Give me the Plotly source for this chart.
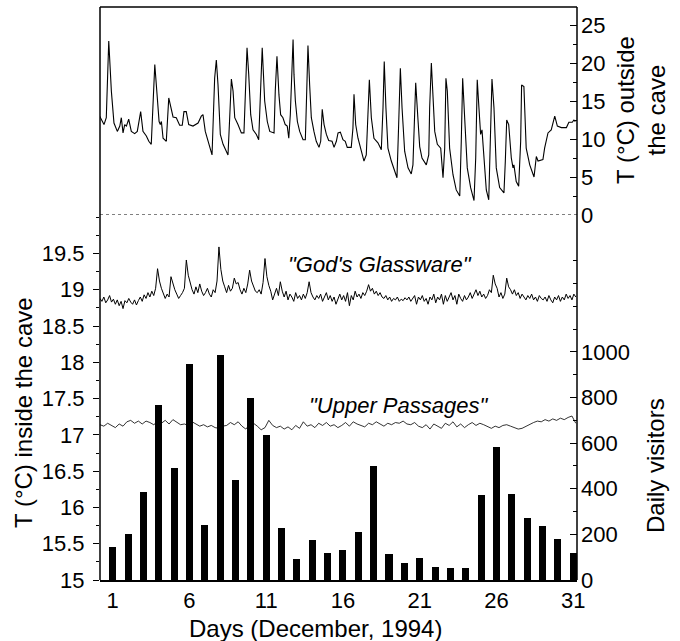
import plotly.graph_objects as go

# ---------------- data ----------------
DAYS = list(range(1, 32))
VISITORS = [143, 202, 387, 768, 490, 946, 241, 987, 439, 800, 636, 229, 93, 175, 120,
            132, 212, 500, 113, 76, 95, 58, 51, 51, 371, 582, 376, 273, 237, 179, 120]

X_TICKS = [1, 6, 11, 16, 21, 26, 31]
IN_TICKS = [15, 15.5, 16, 16.5, 17, 17.5, 18, 18.5, 19, 19.5]
IN_TICK_TEXT = ["15", "15.5", "16", "16.5", "17", "17.5", "18", "18.5", "19", "19.5"]
OUT_TICKS = [0, 5, 10, 15, 20, 25]
VIS_TICKS = [0, 200, 400, 600, 800, 1000]
VIS_MINOR = [100, 300, 500, 700, 900, 1100, 1200, 1300, 1400]

# outside temperature (day, degC)
OUT_DAY = [0.15, 0.43, 0.58, 0.74, 0.91, 1.08, 1.30, 1.46, 1.56, 1.67, 1.78, 1.89, 2.04, 2.21,
           2.43, 2.60, 2.82, 2.97, 3.19, 3.35, 3.51, 3.63, 3.74, 3.89, 4.02, 4.10, 4.17, 4.28,
           4.49, 4.65, 4.78, 4.93, 5.14, 5.36, 5.53, 5.64, 5.79, 5.95, 6.23, 6.56, 6.77, 6.88,
           7.03, 7.27, 7.47, 7.64, 7.75, 7.86, 8.01, 8.19, 8.36, 8.51, 8.62, 8.73, 8.84, 8.95,
           9.16, 9.38, 9.55, 9.64, 9.75, 9.86, 9.99, 10.14, 10.36, 10.51, 10.64, 10.74, 10.90,
           11.07, 11.23, 11.51, 11.59, 11.70, 11.83, 11.94, 12.09, 12.24, 12.37, 12.47, 12.57,
           12.68, 12.75, 12.81, 12.90, 13.03, 13.18, 13.40, 13.55, 13.64, 13.72, 13.83, 13.94,
           14.11, 14.26, 14.44, 14.55, 14.65, 14.77, 14.92, 15.07, 15.29, 15.42, 15.57, 15.68,
           15.83, 16.00, 16.15, 16.28, 16.54, 16.65, 16.72, 16.83, 16.98, 17.20, 17.37, 17.52,
           17.63, 17.72, 17.85, 18.02, 18.28, 18.50, 18.61, 18.69, 18.80, 18.93, 19.15, 19.37,
           19.52, 19.63, 19.74, 19.85, 20.02, 20.24, 20.45, 20.56, 20.67, 20.74, 20.89, 21.00,
           21.15, 21.43, 21.59, 21.65, 21.76, 21.87, 21.98, 22.15, 22.37, 22.52, 22.63, 22.71,
           22.80, 22.95, 23.17, 23.38, 23.61, 23.71, 23.80, 23.93, 24.10, 24.32, 24.54, 24.65,
           24.75, 24.86, 24.97, 25.06, 25.19, 25.34, 25.50, 25.60, 25.71, 25.84, 25.99, 26.21,
           26.49, 26.58, 26.67, 26.80, 26.97, 27.08, 27.14, 27.29, 27.45, 27.58, 27.64, 27.79,
           27.94, 28.17, 28.45, 28.60, 28.71, 29.03, 29.14, 29.36, 29.57, 29.80, 29.97, 30.23,
           30.56, 30.72, 30.94, 31.05, 31.14]
OUT_T = [13.0, 11.9, 12.8, 22.9, 16.3, 12.1, 11.0, 11.7, 12.8, 10.8, 11.9, 11.7, 12.6, 11.0,
         10.7, 11.0, 13.6, 11.0, 10.4, 9.7, 9.3, 14.1, 19.8, 15.8, 12.3, 11.9, 12.3, 10.1,
         9.7, 15.4, 14.1, 12.9, 12.8, 11.8, 11.8, 13.6, 13.6, 11.9, 11.7, 12.1, 13.0, 13.2,
         11.0, 9.3, 7.9, 18.0, 20.4, 17.1, 10.6, 9.3, 8.6, 7.9, 12.8, 17.9, 16.3, 12.8,
         11.9, 10.8, 10.8, 16.3, 22.0, 18.5, 13.2, 11.2, 10.6, 9.9, 16.3, 22.0, 15.0,
         12.3, 11.0, 10.8, 16.3, 20.9, 15.8, 13.2, 12.8, 11.9, 11.7, 10.1, 13.2,
         18.5, 23.1, 18.5, 15.0, 12.3, 11.0, 9.9, 9.9, 16.3, 22.3, 17.1, 12.8,
         11.0, 9.7, 8.9, 9.7, 13.9, 11.9, 10.6, 9.8, 9.7, 8.9, 9.7, 10.8,
         10.9, 9.9, 9.7, 8.9, 8.9, 11.4, 15.9, 11.9, 10.1, 8.4, 7.1, 7.9,
         14.1, 17.8, 12.8, 10.1, 9.5, 8.6, 14.1, 20.2, 14.1, 8.8, 7.1, 5.8,
         4.9, 11.9, 19.3, 14.1, 8.4, 6.2, 5.4, 6.6, 14.1, 17.4, 12.5, 9.0,
         7.5, 6.6, 7.9, 14.1, 20.0, 16.3, 11.0, 9.3, 8.8, 4.9, 8.8, 18.0,
         16.3, 8.8, 5.3, 3.3, 2.5, 9.7, 18.0, 12.8, 6.2, 3.6, 1.9, 7.5,
         17.8, 14.1, 10.6, 11.2, 7.1, 3.3, 2.0, 9.7, 17.9, 14.1, 6.2, 3.6,
         2.9, 7.1, 12.5, 11.9, 7.5, 6.2, 6.6, 4.4, 3.8, 9.7, 17.1, 16.9,
         8.8, 6.6, 5.0, 7.7, 7.1, 7.3, 8.8, 10.8, 11.2, 13.0, 11.7, 11.5,
         11.5, 12.2, 12.2, 12.5, 12.3]

# "God's Glassware" inside temperature, every 3 h from day 0.17
GG_START, GG_STEP = 0.17, 0.125
GG_T = [18.88, 18.84, 18.90, 18.82, 18.86, 18.92, 18.83, 18.87,
        18.80, 18.86, 18.78, 18.84, 18.74, 18.85, 18.82, 18.88,
        18.83, 18.80, 18.86, 18.79, 18.85, 18.90, 18.84, 18.93,
        18.88, 18.96, 18.90, 18.98, 18.92, 19.02, 19.29, 19.12,
        19.02, 18.96, 18.88, 18.94, 18.90, 19.18, 19.08, 19.00,
        18.94, 18.88, 18.92, 18.96, 19.02, 19.41, 19.20, 19.08,
        19.00, 18.94, 19.04, 18.96, 19.08, 18.98, 18.92, 18.96,
        19.02, 18.94, 18.90, 19.00, 18.96, 19.12, 19.59, 19.28,
        19.12, 19.04, 18.96, 19.06, 18.98, 19.02, 19.16, 19.08,
        19.10, 19.00, 18.94, 19.02, 18.96, 19.08, 19.27, 19.12,
        19.04, 18.98, 18.96, 19.00, 18.94, 19.10, 19.43, 19.18,
        19.06, 18.98, 18.86, 18.96, 19.02, 18.92, 19.11, 18.98,
        18.90, 18.98, 18.86, 18.94, 18.90, 18.84, 18.96, 18.88,
        18.92, 18.86, 18.94, 18.88, 18.96, 19.11, 18.96, 18.90,
        18.86, 18.92, 18.88, 18.94, 18.84, 18.90, 18.96, 18.86,
        18.92, 18.84, 18.90, 18.80, 18.88, 18.94, 18.86, 18.92,
        18.84, 18.96, 18.78, 18.92, 18.86, 18.98, 18.90, 18.94,
        18.88, 18.96, 18.92, 18.98, 19.07, 18.98, 19.02, 18.94,
        18.98, 18.92, 18.96, 18.90, 18.88, 18.92, 18.86, 18.90,
        18.84, 18.88, 18.86, 18.90, 18.84, 18.87, 18.85, 18.89,
        18.86, 18.90, 18.84, 18.88, 18.92, 18.80, 18.90, 18.86,
        18.92, 18.84, 18.88, 18.80, 18.90, 18.86, 18.94, 18.82,
        18.90, 18.86, 18.94, 18.80, 18.92, 18.84, 18.90, 18.96,
        18.86, 18.92, 18.80, 18.94, 18.88, 18.84, 18.92, 18.86,
        18.90, 18.96, 18.88, 18.94, 19.00, 18.92, 18.98, 18.90,
        18.94, 18.88, 18.92, 19.00, 18.96, 19.20, 19.08, 19.02,
        18.90, 18.96, 18.88, 18.94, 19.16, 19.04, 19.00, 18.94,
        19.00, 18.92, 18.96, 18.88, 18.94, 18.90, 18.86, 18.92,
        18.88, 18.94, 18.86, 18.90, 18.84, 18.92, 18.88, 18.86,
        18.90, 18.84, 18.92, 18.86, 18.82, 18.90, 18.86, 18.92,
        18.84, 18.90, 18.86, 18.94, 18.88, 18.92, 18.86, 18.94,
        18.90]

# "Upper Passages" inside temperature, every 6 h from day 0.17
UP_START, UP_STEP = 0.17, 0.25
UP_T = [17.14, 17.12, 17.16, 17.13, 17.10, 17.15, 17.12, 17.18,
        17.20, 17.16, 17.19, 17.15, 17.19, 17.17, 17.14, 17.18,
        17.16, 17.20, 17.15, 17.21, 17.17, 17.14, 17.15, 17.13,
        17.18, 17.15, 17.12, 17.14, 17.11, 17.13, 17.10, 17.09,
        17.12, 17.13, 17.17, 17.14, 17.18, 17.12, 17.08, 17.14,
        17.16, 17.12, 17.07, 17.10, 17.20, 17.13, 17.10, 17.12,
        17.08, 17.11, 17.07, 17.13, 17.09, 17.18, 17.12, 17.14,
        17.10, 17.16, 17.13, 17.17, 17.12, 17.14, 17.10, 17.13,
        17.17, 17.12, 17.18, 17.15, 17.13, 17.11, 17.16, 17.14,
        17.18, 17.15, 17.12, 17.16, 17.14, 17.17, 17.16, 17.19,
        17.15, 17.14, 17.17, 17.12, 17.10, 17.14, 17.08, 17.15,
        17.12, 17.09, 17.16, 17.13, 17.18, 17.11, 17.15, 17.10,
        17.14, 17.17, 17.13, 17.16, 17.14, 17.11, 17.09, 17.12,
        17.10, 17.13, 17.14, 17.12, 17.10, 17.08, 17.09, 17.12,
        17.14, 17.17, 17.19, 17.18, 17.21, 17.19, 17.22, 17.20,
        17.23, 17.21, 17.24, 17.26, 17.16]

gg_x = [GG_START + GG_STEP * i for i in range(len(GG_T))]
up_x = [UP_START + UP_STEP * i for i in range(len(UP_T))]

# ---------------- layout helpers ----------------
W, H = 680, 641
L, R, T, B = 100, 577, 7, 580
SPLIT = (B - 215) / (B - T)
FONT = "Liberation Sans, Arial, Helvetica, sans-serif"


def px(xp):
    return (xp - L) / (R - L)


def py(yp):
    return (B - yp) / (B - T)


fig = go.Figure()
fig.add_trace(go.Bar(x=DAYS, y=VISITORS, yaxis="y2", width=0.46,
                     marker=dict(color="black", line=dict(width=0))))
fig.add_trace(go.Scatter(x=up_x, y=UP_T, yaxis="y", mode="lines",
                         line=dict(color="black", width=0.8)))
fig.add_trace(go.Scatter(x=gg_x, y=GG_T, yaxis="y", mode="lines",
                         line=dict(color="black", width=1)))
fig.add_trace(go.Scatter(x=OUT_DAY, y=OUT_T, yaxis="y3", mode="lines",
                         line=dict(color="black", width=1.1)))

tickfont = dict(family=FONT, size=22, color="black")

fig.update_layout(
    width=W, height=H,
    margin=dict(l=L, r=W - R, t=T, b=H - B, pad=0),
    paper_bgcolor="white", plot_bgcolor="white",
    showlegend=False, bargap=0,
    font=dict(family=FONT, color="black"),
    xaxis=dict(domain=[0, 1], range=[0.17, 31.25], anchor="y",
               tickmode="array", tickvals=X_TICKS, ticks="",
               showline=True, linecolor="black", linewidth=1.5,
               showgrid=False, zeroline=False, tickfont=tickfont,
               ticklabelstandoff=0),
    yaxis=dict(domain=[0, SPLIT], range=[15, 20.03], anchor="x",
               tickmode="array", tickvals=IN_TICKS, ticktext=IN_TICK_TEXT,
               ticks="outside", ticklen=6, tickwidth=1.3, tickcolor="black",
               minor=dict(tickmode="linear", tick0=15, dtick=0.25, ticks="outside",
                          ticklen=3, tickwidth=1, tickcolor="black", showgrid=False),
               showline=False, showgrid=False, zeroline=False, tickfont=tickfont,
               ticklabelstandoff=4),
    yaxis2=dict(overlaying="y", side="right", range=[0, 1600], anchor="x",
                tickmode="array", tickvals=VIS_TICKS,
                ticks="inside", ticklen=7, tickwidth=1.3, tickcolor="black",
                minor=dict(tickmode="array", tickvals=VIS_MINOR, ticks="inside",
                           ticklen=4, tickwidth=1, tickcolor="black", showgrid=False),
                showline=False, showgrid=False, zeroline=False, tickfont=tickfont,
                ticklabelstandoff=3),
    yaxis3=dict(domain=[SPLIT, 1], range=[0, (215 - T) / 7.6], anchor="x", side="right",
                tickmode="array", tickvals=OUT_TICKS,
                ticks="inside", ticklen=7, tickwidth=1.3, tickcolor="black",
                minor=dict(tickmode="linear", tick0=2.5, dtick=5, ticks="inside",
                           ticklen=4, tickwidth=1, tickcolor="black", showgrid=False),
                showline=False, showgrid=False, zeroline=False, tickfont=tickfont,
                ticklabelstandoff=3),
)

line_style = dict(color="black", width=1.5)
fig.add_shape(type="line", xref="paper", yref="paper", x0=0, x1=0, y0=0, y1=1, line=line_style)
fig.add_shape(type="line", xref="paper", yref="paper", x0=1, x1=1, y0=0, y1=1, line=line_style)
fig.add_shape(type="line", xref="paper", yref="paper", x0=0, x1=1, y0=1, y1=1, line=line_style)
fig.add_shape(type="line", xref="paper", yref="y3", x0=0, x1=1, y0=0, y1=0,
              line=dict(color="black", width=1, dash="dot"))

title_font = dict(family=FONT, size=24, color="black")
label_font = dict(family=FONT, size=22, color="black")
ann = [
    dict(text="T (°C) inside the cave", x=px(23), y=py(413), textangle=-90, font=title_font),
    dict(text="T (°C) outside<br>the cave", x=px(641), y=py(110), textangle=-90, font=title_font),
    dict(text="Daily visitors", x=px(655), y=py(466), textangle=-90, font=title_font),
    dict(text="Days (December, 1994)", x=px(315), y=py(628), textangle=0, font=title_font),
    dict(text="<i>\"God's Glassware\"</i>", x=px(380), y=py(264), textangle=0, font=label_font),
    dict(text="<i>\"Upper Passages\"</i>", x=px(398), y=py(405), textangle=0, font=label_font),
]
for a in ann:
    fig.add_annotation(xref="paper", yref="paper", showarrow=False,
                       xanchor="center", yanchor="middle", **a)

fig.write_html("out.html")
